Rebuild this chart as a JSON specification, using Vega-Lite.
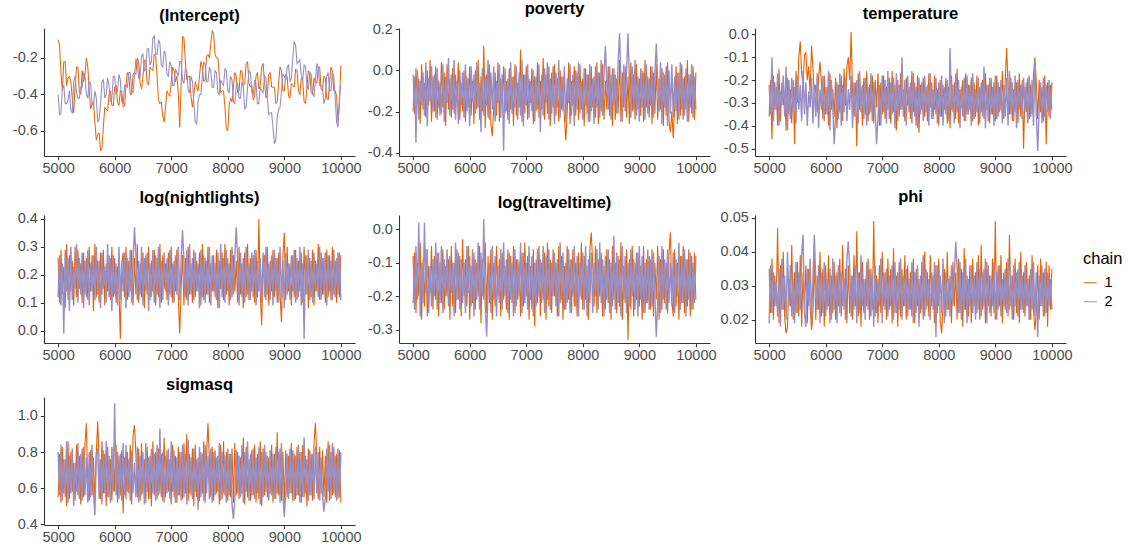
{
"$schema": "https://vega.github.io/schema/vega-lite/v6.json",
"background": "white",
"padding": {"left": 10, "top": 0, "right": 5, "bottom": 5},
"data": {"values": [
{"x":5000,"a1":-0.10,"a2":-0.40,"b1":-0.02,"b2":-0.20,"d1":-0.36,"d2":-0.22,"e1":0.26,"e2":0.12,"f1":-0.22,"f2":-0.08,"g1":0.035,"g2":0.019,"h1":0.55,"h2":0.80},
{"x":5025,"a1":-0.13,"a2":-0.51,"b1":-0.21,"b2":-0.03,"d1":-0.20,"d2":-0.35,"e1":0.10,"e2":0.27,"f1":-0.07,"f2":-0.24,"g1":0.022,"g2":0.036,"h1":0.79,"h2":0.56},
{"x":5050,"a1":-0.28,"a2":-0.50,"b1":0.01,"b2":-0.35,"d1":-0.46,"d2":-0.10,"e1":0.29,"e2":0.09,"f1":-0.25,"f2":-0.05,"g1":0.038,"g2":0.022,"h1":0.52,"h2":0.84},
{"x":5075,"a1":-0.38,"a2":-0.37,"b1":-0.16,"b2":0.00,"d1":-0.18,"d2":-0.38,"e1":0.13,"e2":0.24,"f1":-0.10,"f2":-0.21,"g1":0.020,"g2":0.034,"h1":0.83,"h2":0.53},
{"x":5100,"a1":-0.22,"a2":-0.35,"b1":-0.04,"b2":-0.24,"d1":-0.33,"d2":-0.21,"e1":0.23,"e2":-0.01,"f1":-0.20,"f2":0.02,"g1":0.033,"g2":0.024,"h1":0.57,"h2":0.76},
{"x":5125,"a1":-0.22,"a2":-0.45,"b1":-0.26,"b2":-0.05,"d1":-0.23,"d2":-0.33,"e1":0.08,"e2":0.29,"f1":-0.04,"f2":-0.26,"g1":0.024,"g2":0.031,"h1":0.76,"h2":0.55},
{"x":5150,"a1":-0.35,"a2":-0.45,"b1":0.03,"b2":-0.17,"d1":-0.40,"d2":-0.17,"e1":0.31,"e2":0.14,"f1":-0.27,"f2":-0.10,"g1":0.047,"g2":0.021,"h1":0.50,"h2":0.86},
{"x":5175,"a1":-0.31,"a2":-0.43,"b1":-0.19,"b2":-0.01,"d1":-0.15,"d2":-0.40,"e1":0.11,"e2":0.26,"f1":-0.09,"f2":-0.22,"g1":0.019,"g2":0.035,"h1":0.86,"h2":0.52},
{"x":5200,"a1":-0.30,"a2":-0.38,"b1":-0.06,"b2":-0.22,"d1":-0.38,"d2":-0.25,"e1":0.27,"e2":0.07,"f1":-0.23,"f2":0.02,"g1":0.036,"g2":0.018,"h1":0.54,"h2":0.78},
{"x":5225,"a1":-0.33,"a2":-0.49,"b1":-0.23,"b2":0.04,"d1":-0.21,"d2":-0.31,"e1":0.14,"e2":0.30,"f1":-0.06,"f2":-0.19,"g1":0.023,"g2":0.038,"h1":0.80,"h2":0.57},
{"x":5250,"a1":-0.42,"a2":-0.50,"b1":0.00,"b2":-0.27,"d1":-0.31,"d2":-0.18,"e1":0.25,"e2":0.11,"f1":-0.26,"f2":-0.06,"g1":0.040,"g2":0.023,"h1":0.58,"h2":0.82},
{"x":5275,"a1":-0.50,"a2":-0.33,"b1":-0.17,"b2":-0.04,"d1":-0.25,"d2":-0.36,"e1":0.09,"e2":0.23,"f1":-0.11,"f2":-0.25,"g1":0.021,"g2":0.033,"h1":0.74,"h2":0.50},
{"x":5300,"a1":-0.36,"a2":-0.30,"b1":0.05,"b2":-0.15,"d1":-0.42,"d2":-0.14,"e1":0.30,"e2":0.15,"f1":-0.19,"f2":-0.11,"g1":0.016,"g2":0.020,"h1":0.53,"h2":0.74},
{"x":5325,"a1":-0.25,"a2":-0.39,"b1":-0.25,"b2":0.02,"d1":-0.19,"d2":-0.42,"e1":0.12,"e2":0.31,"f1":-0.05,"f2":-0.23,"g1":0.018,"g2":0.040,"h1":0.84,"h2":0.58},
{"x":5350,"a1":-0.25,"a2":-0.42,"b1":-0.03,"b2":-0.20,"d1":-0.35,"d2":-0.20,"e1":0.29,"e2":0.10,"f1":-0.24,"f2":-0.09,"g1":0.032,"g2":0.024,"h1":0.56,"h2":0.85},
{"x":5375,"a1":-0.39,"a2":-0.42,"b1":-0.20,"b2":-0.02,"d1":-0.24,"d2":-0.37,"e1":0.15,"e2":0.26,"f1":-0.08,"f2":-0.20,"g1":0.024,"g2":0.036,"h1":0.78,"h2":0.54},
{"x":5400,"a1":-0.40,"a2":-0.36,"b1":0.02,"b2":-0.23,"d1":-0.39,"d2":-0.19,"e1":0.24,"e2":0.13,"f1":-0.21,"f2":-0.04,"g1":0.042,"g2":0.021,"h1":0.51,"h2":0.79},
{"x":5425,"a1":-0.27,"a2":-0.36,"b1":-0.24,"b2":0.01,"d1":-0.20,"d2":-0.34,"e1":0.10,"e2":0.28,"f1":-0.07,"f2":-0.24,"g1":0.020,"g2":0.032,"h1":0.82,"h2":0.53},
{"x":5450,"a1":-0.33,"a2":-0.28,"b1":-0.05,"b2":-0.18,"d1":-0.48,"d2":-0.23,"e1":0.28,"e2":0.08,"f1":-0.26,"f2":-0.07,"g1":0.034,"g2":0.019,"h1":0.55,"h2":0.83},
{"x":5475,"a1":-0.29,"a2":-0.30,"b1":-0.22,"b2":-0.06,"d1":-0.16,"d2":-0.39,"e1":0.13,"e2":0.25,"f1":-0.10,"f2":-0.22,"g1":0.022,"g2":0.037,"h1":0.85,"h2":0.56},
{"x":5500,"a1":-0.20,"a2":-0.40,"b1":0.04,"b2":-0.21,"d1":-0.30,"d2":-0.18,"e1":0.26,"e2":0.12,"f1":-0.22,"f2":-0.05,"g1":0.037,"g2":0.022,"h1":0.96,"h2":0.77},
{"x":5525,"a1":-0.25,"a2":-0.42,"b1":-0.18,"b2":0.03,"d1":-0.10,"d2":-0.33,"e1":0.11,"e2":0.29,"f1":-0.06,"f2":-0.25,"g1":0.021,"g2":0.034,"h1":0.58,"h2":0.52},
{"x":5550,"a1":-0.38,"a2":-0.33,"b1":-0.01,"b2":-0.25,"d1":-0.03,"d2":-0.22,"e1":0.30,"e2":0.09,"f1":-0.24,"f2":-0.09,"g1":0.039,"g2":0.023,"h1":0.53,"h2":0.80},
{"x":5575,"a1":-0.48,"a2":-0.34,"b1":-0.27,"b2":-0.03,"d1":-0.17,"d2":-0.38,"e1":0.14,"e2":0.24,"f1":-0.11,"f2":-0.20,"g1":0.018,"g2":0.039,"h1":0.81,"h2":0.55},
{"x":5600,"a1":-0.45,"a2":-0.45,"b1":0.03,"b2":-0.16,"d1":-0.22,"d2":-0.16,"e1":0.27,"e2":0.14,"f1":-0.20,"f2":-0.06,"g1":0.034,"g2":0.045,"h1":0.56,"h2":0.84},
{"x":5625,"a1":-0.44,"a2":-0.46,"b1":-0.19,"b2":0.06,"d1":-0.09,"d2":-0.35,"e1":0.07,"e2":0.27,"f1":-0.09,"f2":-0.23,"g1":0.023,"g2":0.022,"h1":0.77,"h2":0.57},
{"x":5650,"a1":-0.55,"a2":-0.38,"b1":-0.04,"b2":-0.22,"d1":-0.08,"d2":-0.21,"e1":0.31,"e2":0.11,"f1":-0.27,"f2":-0.08,"g1":0.036,"g2":0.018,"h1":0.52,"h2":0.45},
{"x":5675,"a1":-0.65,"a2":-0.42,"b1":-0.23,"b2":-0.02,"d1":-0.20,"d2":-0.40,"e1":0.12,"e2":0.30,"f1":-0.05,"f2":-0.19,"g1":0.019,"g2":0.035,"h1":0.80,"h2":0.79},
{"x":5700,"a1":-0.62,"a2":-0.55,"b1":0.01,"b2":-0.19,"d1":-0.14,"d2":-0.25,"e1":0.25,"e2":0.13,"f1":-0.23,"f2":-0.10,"g1":0.035,"g2":0.024,"h1":0.97,"h2":0.82},
{"x":5725,"a1":-0.61,"a2":-0.54,"b1":-0.21,"b2":0.05,"d1":-0.26,"d2":-0.32,"e1":0.10,"e2":0.25,"f1":-0.10,"f2":-0.26,"g1":0.024,"g2":0.038,"h1":0.74,"h2":0.54},
{"x":5750,"a1":-0.71,"a2":-0.45,"b1":-0.02,"b2":-0.24,"d1":-0.05,"d2":-0.19,"e1":0.28,"e2":0.08,"f1":-0.25,"f2":-0.04,"g1":0.017,"g2":0.020,"h1":0.54,"h2":0.76},
{"x":5775,"a1":-0.69,"a2":-0.33,"b1":-0.16,"b2":-0.05,"d1":-0.15,"d2":-0.39,"e1":0.13,"e2":0.28,"f1":-0.06,"f2":-0.21,"g1":0.022,"g2":0.033,"h1":0.86,"h2":0.51},
{"x":5800,"a1":-0.58,"a2":-0.32,"b1":0.04,"b2":-0.26,"d1":-0.27,"d2":-0.22,"e1":0.29,"e2":0.15,"f1":-0.21,"f2":-0.07,"g1":0.038,"g2":0.045,"h1":0.57,"h2":0.81},
{"x":5825,"a1":-0.47,"a2":-0.42,"b1":-0.24,"b2":0.00,"d1":-0.22,"d2":-0.36,"e1":0.09,"e2":0.23,"f1":-0.08,"f2":-0.24,"g1":0.020,"g2":0.031,"h1":0.79,"h2":0.57},
{"x":5850,"a1":-0.48,"a2":-0.40,"b1":-0.06,"b2":-0.17,"d1":-0.34,"d2":-0.17,"e1":0.24,"e2":0.10,"f1":-0.26,"f2":-0.09,"g1":0.033,"g2":0.023,"h1":0.50,"h2":0.86},
{"x":5875,"a1":-0.49,"a2":-0.31,"b1":-0.20,"b2":-0.01,"d1":-0.19,"d2":-0.41,"e1":0.14,"e2":0.31,"f1":-0.03,"f2":-0.22,"g1":0.023,"g2":0.036,"h1":0.83,"h2":0.55},
{"x":5900,"a1":-0.40,"a2":-0.35,"b1":0.00,"b2":-0.23,"d1":-0.12,"d2":-0.24,"e1":0.27,"e2":0.12,"f1":-0.20,"f2":-0.10,"g1":0.040,"g2":0.019,"h1":0.55,"h2":0.78},
{"x":5925,"a1":-0.38,"a2":-0.44,"b1":-0.25,"b2":0.03,"d1":-0.21,"d2":-0.33,"e1":0.11,"e2":0.26,"f1":-0.09,"f2":-0.25,"g1":0.021,"g2":0.034,"h1":0.76,"h2":0.52},
{"x":5950,"a1":-0.46,"a2":-0.42,"b1":-0.03,"b2":-0.20,"d1":-0.37,"d2":-0.18,"e1":0.30,"e2":0.07,"f1":-0.23,"f2":-0.05,"g1":0.035,"g2":0.022,"h1":0.53,"h2":0.83},
{"x":5975,"a1":-0.46,"a2":-0.30,"b1":-0.18,"b2":-0.04,"d1":-0.18,"d2":-0.38,"e1":0.12,"e2":0.27,"f1":-0.05,"f2":-0.19,"g1":0.018,"g2":0.037,"h1":0.82,"h2":0.58},
{"x":6000,"a1":-0.36,"a2":-0.30,"b1":0.02,"b2":-0.27,"d1":-0.35,"d2":-0.23,"e1":0.26,"e2":0.13,"f1":-0.27,"f2":-0.08,"g1":0.036,"g2":0.021,"h1":0.58,"h2":1.07},
{"x":6025,"a1":-0.35,"a2":-0.40,"b1":-0.22,"b2":0.02,"d1":-0.23,"d2":-0.35,"e1":0.10,"e2":0.24,"f1":-0.11,"f2":-0.23,"g1":0.023,"g2":0.032,"h1":0.84,"h2":0.56},
{"x":6050,"a1":-0.44,"a2":-0.38,"b1":-0.05,"b2":-0.15,"d1":-0.40,"d2":-0.16,"e1":0.23,"e2":0.09,"f1":-0.22,"f2":-0.06,"g1":0.039,"g2":0.024,"h1":0.52,"h2":0.80},
{"x":6075,"a1":-0.46,"a2":-0.29,"b1":-0.26,"b2":-0.02,"d1":-0.17,"d2":-0.42,"e1":0.15,"e2":0.30,"f1":-0.07,"f2":-0.26,"g1":0.019,"g2":0.035,"h1":0.78,"h2":0.54},
{"x":6100,"a1":-0.38,"a2":-0.32,"b1":0.00,"b2":-0.21,"d1":-0.33,"d2":-0.20,"e1":-0.03,"e2":0.11,"f1":-0.24,"f2":-0.09,"g1":0.033,"g2":0.020,"h1":0.56,"h2":0.79},
{"x":6125,"a1":-0.38,"a2":-0.44,"b1":-0.19,"b2":0.04,"d1":-0.24,"d2":-0.31,"e1":0.24,"e2":0.25,"f1":-0.10,"f2":-0.21,"g1":0.022,"g2":0.038,"h1":0.81,"h2":0.53},
{"x":6150,"a1":-0.47,"a2":-0.45,"b1":0.05,"b2":-0.18,"d1":-0.36,"d2":-0.48,"e1":0.28,"e2":0.14,"f1":-0.20,"f2":-0.04,"g1":0.037,"g2":0.023,"h1":0.46,"h2":0.85},
{"x":6175,"a1":-0.46,"a2":-0.35,"b1":-0.24,"b2":-0.06,"d1":-0.19,"d2":-0.36,"e1":0.12,"e2":0.28,"f1":-0.05,"f2":-0.24,"g1":0.020,"g2":0.033,"h1":0.77,"h2":0.56},
{"x":6200,"a1":-0.35,"a2":-0.35,"b1":-0.03,"b2":-0.30,"d1":-0.41,"d2":-0.21,"e1":0.30,"e2":0.08,"f1":-0.28,"f2":-0.07,"g1":0.034,"g2":0.019,"h1":0.54,"h2":0.84},
{"x":6225,"a1":-0.28,"a2":-0.36,"b1":-0.20,"b2":0.01,"d1":-0.22,"d2":-0.37,"e1":0.11,"e2":0.26,"f1":-0.09,"f2":-0.20,"g1":0.024,"g2":0.036,"h1":0.80,"h2":0.58},
{"x":6250,"a1":-0.30,"a2":-0.28,"b1":0.12,"b2":-0.22,"d1":-0.34,"d2":-0.17,"e1":0.25,"e2":0.12,"f1":-0.21,"f2":0.03,"g1":0.038,"g2":0.022,"h1":0.57,"h2":0.76},
{"x":6275,"a1":-0.40,"a2":-0.28,"b1":-0.28,"b2":-0.03,"d1":-0.18,"d2":-0.40,"e1":0.14,"e2":0.29,"f1":-0.04,"f2":-0.23,"g1":0.021,"g2":0.034,"h1":0.84,"h2":0.53},
{"x":6300,"a1":-0.40,"a2":-0.38,"b1":-0.02,"b2":-0.17,"d1":-0.38,"d2":-0.22,"e1":0.29,"e2":0.10,"f1":-0.25,"f2":-0.32,"g1":0.042,"g2":0.024,"h1":0.51,"h2":0.81},
{"x":6325,"a1":-0.29,"a2":-0.39,"b1":-0.23,"b2":0.05,"d1":-0.15,"d2":-0.34,"e1":0.09,"e2":0.24,"f1":-0.08,"f2":-0.18,"g1":0.023,"g2":0.032,"h1":0.89,"h2":0.57},
{"x":6350,"a1":-0.28,"a2":-0.30,"b1":0.03,"b2":-0.24,"d1":-0.31,"d2":-0.19,"e1":0.26,"e2":0.37,"f1":-0.22,"f2":-0.10,"g1":0.035,"g2":0.020,"h1":0.95,"h2":0.74},
{"x":6375,"a1":-0.29,"a2":-0.21,"b1":-0.26,"b2":-0.01,"d1":-0.14,"d2":-0.38,"e1":0.13,"e2":0.27,"f1":-0.06,"f2":-0.25,"g1":0.019,"g2":0.038,"h1":0.79,"h2":0.55},
{"x":6400,"a1":-0.20,"a2":-0.22,"b1":-0.32,"b2":-0.19,"d1":-0.10,"d2":-0.24,"e1":0.31,"e2":0.11,"f1":-0.27,"f2":-0.05,"g1":0.036,"g2":0.043,"h1":0.55,"h2":0.83},
{"x":6425,"a1":-0.22,"a2":-0.31,"b1":-0.18,"b2":0.02,"d1":-0.20,"d2":-0.33,"e1":0.10,"e2":0.25,"f1":-0.10,"f2":-0.21,"g1":0.022,"g2":0.035,"h1":0.82,"h2":0.52},
{"x":6450,"a1":-0.34,"a2":-0.30,"b1":-0.01,"b2":-0.25,"d1":0.01,"d2":-0.18,"e1":0.24,"e2":0.13,"f1":-0.23,"f2":-0.08,"g1":0.033,"g2":0.021,"h1":0.53,"h2":0.78},
{"x":6475,"a1":-0.37,"a2":-0.19,"b1":-0.22,"b2":-0.05,"d1":-0.25,"d2":-0.41,"e1":0.12,"e2":0.30,"f1":-0.05,"f2":-0.26,"g1":0.020,"g2":0.033,"h1":0.85,"h2":0.56},
{"x":6500,"a1":-0.30,"a2":-0.18,"b1":0.04,"b2":-0.16,"d1":-0.36,"d2":-0.21,"e1":0.28,"e2":0.09,"f1":-0.20,"f2":-0.11,"g1":0.039,"g2":0.023,"h1":0.57,"h2":0.80},
{"x":6525,"a1":-0.21,"a2":-0.27,"b1":-0.25,"b2":0.03,"d1":-0.21,"d2":-0.36,"e1":0.08,"e2":0.26,"f1":-0.09,"f2":-0.22,"g1":0.024,"g2":0.036,"h1":0.76,"h2":0.51},
{"x":6550,"a1":-0.22,"a2":-0.26,"b1":-0.04,"b2":-0.23,"d1":-0.49,"d2":-0.20,"e1":0.27,"e2":0.14,"f1":-0.26,"f2":-0.06,"g1":0.046,"g2":0.019,"h1":0.52,"h2":0.85},
{"x":6575,"a1":-0.34,"a2":-0.15,"b1":-0.17,"b2":-0.02,"d1":-0.17,"d2":-0.39,"e1":0.13,"e2":0.28,"f1":-0.07,"f2":-0.24,"g1":0.021,"g2":0.034,"h1":0.83,"h2":0.58},
{"x":6600,"a1":-0.35,"a2":-0.15,"b1":0.02,"b2":-0.39,"d1":-0.33,"d2":-0.16,"e1":0.30,"e2":0.07,"f1":-0.21,"f2":-0.04,"g1":0.034,"g2":0.022,"h1":0.54,"h2":0.77},
{"x":6625,"a1":-0.25,"a2":-0.24,"b1":-0.21,"b2":0.01,"d1":-0.23,"d2":-0.34,"e1":0.11,"e2":0.24,"f1":-0.11,"f2":-0.20,"g1":0.018,"g2":0.039,"h1":0.78,"h2":0.54},
{"x":6650,"a1":-0.26,"a2":-0.22,"b1":-0.05,"b2":-0.20,"d1":-0.40,"d2":-0.22,"e1":0.25,"e2":0.12,"f1":-0.24,"f2":-0.09,"g1":0.037,"g2":0.024,"h1":0.50,"h2":0.82},
{"x":6675,"a1":-0.27,"a2":-0.09,"b1":-0.24,"b2":-0.04,"d1":-0.19,"d2":-0.37,"e1":0.14,"e2":0.29,"f1":-0.06,"f2":-0.25,"g1":0.022,"g2":0.032,"h1":0.86,"h2":0.57},
{"x":6700,"a1":-0.18,"a2":-0.08,"b1":0.01,"b2":-0.26,"d1":-0.35,"d2":-0.19,"e1":0.29,"e2":0.10,"f1":-0.27,"f2":-0.07,"g1":0.032,"g2":0.020,"h1":0.56,"h2":0.79},
{"x":6725,"a1":-0.19,"a2":-0.18,"b1":-0.19,"b2":0.04,"d1":-0.16,"d2":-0.40,"e1":0.09,"e2":0.27,"f1":-0.08,"f2":-0.21,"g1":0.024,"g2":0.037,"h1":0.80,"h2":0.53},
{"x":6750,"a1":-0.30,"a2":-0.18,"b1":-0.03,"b2":-0.21,"d1":-0.38,"d2":-0.23,"e1":0.26,"e2":0.13,"f1":-0.22,"f2":-0.10,"g1":0.038,"g2":0.023,"h1":0.54,"h2":0.84},
{"x":6775,"a1":-0.43,"a2":-0.10,"b1":-0.27,"b2":-0.03,"d1":-0.22,"d2":-0.35,"e1":0.12,"e2":0.30,"f1":-0.05,"f2":-0.26,"g1":0.020,"g2":0.035,"h1":0.82,"h2":0.56},
{"x":6800,"a1":-0.45,"a2":-0.12,"b1":0.03,"b2":-0.18,"d1":-0.34,"d2":-0.17,"e1":0.31,"e2":0.08,"f1":-0.25,"f2":-0.06,"g1":0.035,"g2":0.021,"h1":0.57,"h2":0.93},
{"x":6825,"a1":-0.44,"a2":-0.24,"b1":-0.22,"b2":0.02,"d1":-0.18,"d2":-0.38,"e1":0.10,"e2":0.25,"f1":-0.09,"f2":-0.23,"g1":0.023,"g2":0.033,"h1":0.79,"h2":0.55},
{"x":6850,"a1":-0.52,"a2":-0.25,"b1":-0.06,"b2":-0.24,"d1":-0.39,"d2":-0.21,"e1":0.27,"e2":0.11,"f1":-0.21,"f2":-0.09,"g1":0.049,"g2":0.018,"h1":0.53,"h2":0.80},
{"x":6875,"a1":-0.55,"a2":-0.16,"b1":-0.18,"b2":-0.01,"d1":-0.20,"d2":-0.33,"e1":0.15,"e2":0.28,"f1":-0.10,"f2":-0.20,"g1":0.021,"g2":0.036,"h1":0.88,"h2":0.52},
{"x":6900,"a1":-0.47,"a2":-0.18,"b1":0.10,"b2":-0.22,"d1":-0.32,"d2":-0.48,"e1":0.24,"e2":0.14,"f1":-0.26,"f2":-0.04,"g1":0.033,"g2":0.022,"h1":0.55,"h2":0.78},
{"x":6925,"a1":-0.38,"a2":-0.29,"b1":-0.25,"b2":0.05,"d1":-0.17,"d2":-0.36,"e1":0.11,"e2":0.26,"f1":-0.07,"f2":-0.25,"g1":0.019,"g2":0.032,"h1":0.81,"h2":0.57},
{"x":6950,"a1":-0.40,"a2":-0.30,"b1":-0.02,"b2":-0.27,"d1":-0.40,"d2":-0.22,"e1":0.28,"e2":0.09,"f1":-0.23,"f2":-0.07,"g1":0.036,"g2":0.024,"h1":0.58,"h2":0.82},
{"x":6975,"a1":-0.41,"a2":-0.22,"b1":-0.21,"b2":-0.02,"d1":-0.21,"d2":-0.40,"e1":0.13,"e2":0.29,"f1":-0.04,"f2":-0.22,"g1":0.022,"g2":0.038,"h1":0.76,"h2":0.54},
{"x":7000,"a1":-0.33,"a2":-0.24,"b1":0.02,"b2":-0.17,"d1":-0.35,"d2":-0.18,"e1":0.30,"e2":0.12,"f1":-0.20,"f2":-0.10,"g1":0.040,"g2":0.019,"h1":0.51,"h2":0.86},
{"x":7025,"a1":-0.25,"a2":-0.35,"b1":-0.24,"b2":0.03,"d1":-0.18,"d2":-0.34,"e1":0.10,"e2":0.24,"f1":-0.08,"f2":-0.24,"g1":0.024,"g2":0.034,"h1":0.84,"h2":0.58},
{"x":7050,"a1":-0.27,"a2":-0.35,"b1":-0.04,"b2":-0.23,"d1":-0.37,"d2":-0.20,"e1":0.25,"e2":0.10,"f1":-0.27,"f2":-0.05,"g1":0.034,"g2":0.023,"h1":0.55,"h2":0.81},
{"x":7075,"a1":-0.33,"a2":-0.26,"b1":-0.16,"b2":-0.05,"d1":-0.23,"d2":-0.39,"e1":0.14,"e2":0.27,"f1":-0.11,"f2":-0.21,"g1":0.020,"g2":0.035,"h1":0.78,"h2":0.52},
{"x":7100,"a1":-0.30,"a2":-0.28,"b1":0.01,"b2":-0.20,"d1":-0.33,"d2":-0.16,"e1":0.29,"e2":0.13,"f1":-0.24,"f2":-0.08,"g1":0.038,"g2":0.021,"h1":0.52,"h2":0.77},
{"x":7125,"a1":-0.39,"a2":-0.30,"b1":-0.26,"b2":0.00,"d1":-0.19,"d2":-0.37,"e1":0.12,"e2":0.30,"f1":-0.06,"f2":-0.26,"g1":0.023,"g2":0.033,"h1":0.83,"h2":0.56},
{"x":7150,"a1":-0.58,"a2":-0.22,"b1":-0.03,"b2":-0.25,"d1":-0.39,"d2":-0.21,"e1":-0.01,"e2":0.11,"f1":-0.29,"f2":-0.10,"g1":0.035,"g2":0.024,"h1":0.56,"h2":0.80},
{"x":7175,"a1":-0.35,"a2":-0.22,"b1":-0.20,"b2":-0.03,"d1":-0.16,"d2":-0.35,"e1":0.15,"e2":0.26,"f1":-0.09,"f2":-0.23,"g1":0.019,"g2":0.036,"h1":0.80,"h2":0.53},
{"x":7200,"a1":-0.08,"a2":-0.32,"b1":0.04,"b2":-0.19,"d1":-0.34,"d2":-0.19,"e1":0.27,"e2":0.36,"f1":-0.22,"f2":-0.06,"g1":0.041,"g2":0.020,"h1":0.54,"h2":0.84},
{"x":7225,"a1":-0.09,"a2":-0.34,"b1":-0.23,"b2":0.03,"d1":-0.22,"d2":-0.41,"e1":0.09,"e2":0.25,"f1":-0.05,"f2":-0.20,"g1":0.022,"g2":0.037,"h1":0.85,"h2":0.55},
{"x":7250,"a1":-0.22,"a2":-0.26,"b1":-0.05,"b2":-0.30,"d1":-0.42,"d2":-0.17,"e1":0.26,"e2":0.12,"f1":-0.26,"f2":-0.09,"g1":0.033,"g2":0.022,"h1":0.57,"h2":0.79},
{"x":7275,"a1":-0.32,"a2":-0.27,"b1":-0.19,"b2":-0.02,"d1":-0.20,"d2":-0.38,"e1":0.11,"e2":0.29,"f1":-0.10,"f2":-0.22,"g1":0.018,"g2":0.034,"h1":0.90,"h2":0.51},
{"x":7300,"a1":-0.30,"a2":-0.38,"b1":0.06,"b2":-0.22,"d1":-0.36,"d2":-0.22,"e1":0.30,"e2":0.09,"f1":-0.21,"f2":-0.05,"g1":0.037,"g2":0.023,"h1":0.53,"h2":0.87},
{"x":7325,"a1":-0.30,"a2":-0.39,"b1":-0.24,"b2":0.01,"d1":-0.17,"d2":-0.33,"e1":0.13,"e2":0.31,"f1":-0.07,"f2":-0.25,"g1":0.021,"g2":0.038,"h1":0.79,"h2":0.57},
{"x":7350,"a1":-0.41,"a2":-0.30,"b1":-0.02,"b2":-0.16,"d1":-0.33,"d2":-0.10,"e1":0.24,"e2":0.13,"f1":-0.27,"f2":-0.08,"g1":0.035,"g2":0.020,"h1":0.56,"h2":0.77},
{"x":7375,"a1":-0.47,"a2":-0.33,"b1":-0.21,"b2":0.04,"d1":-0.24,"d2":-0.36,"e1":0.10,"e2":0.26,"f1":-0.04,"f2":-0.21,"g1":0.024,"g2":0.033,"h1":0.82,"h2":0.54},
{"x":7400,"a1":-0.40,"a2":-0.45,"b1":0.02,"b2":-0.24,"d1":-0.38,"d2":-0.20,"e1":0.29,"e2":0.11,"f1":-0.23,"f2":-0.06,"g1":0.039,"g2":0.024,"h1":0.50,"h2":0.82},
{"x":7425,"a1":-0.33,"a2":-0.55,"b1":-0.27,"b2":-0.04,"d1":-0.19,"d2":-0.40,"e1":0.12,"e2":0.28,"f1":-0.09,"f2":-0.24,"g1":0.020,"g2":0.035,"h1":0.84,"h2":0.58},
{"x":7450,"a1":-0.36,"a2":-0.56,"b1":-0.01,"b2":-0.21,"d1":-0.31,"d2":-0.18,"e1":0.25,"e2":0.14,"f1":-0.25,"f2":-0.10,"g1":0.036,"g2":0.021,"h1":0.55,"h2":0.76},
{"x":7475,"a1":-0.38,"a2":-0.44,"b1":-0.18,"b2":0.02,"d1":-0.23,"d2":-0.34,"e1":0.14,"e2":0.24,"f1":-0.06,"f2":-0.20,"g1":0.023,"g2":0.032,"h1":0.77,"h2":0.48},
{"x":7500,"a1":-0.30,"a2":-0.40,"b1":0.03,"b2":-0.26,"d1":-0.37,"d2":-0.21,"e1":0.28,"e2":0.08,"f1":-0.20,"f2":-0.07,"g1":0.034,"g2":0.023,"h1":0.53,"h2":0.83},
{"x":7525,"a1":-0.22,"a2":-0.40,"b1":-0.22,"b2":-0.01,"d1":-0.16,"d2":-0.39,"e1":0.09,"e2":0.29,"f1":-0.10,"f2":-0.23,"g1":0.021,"g2":0.037,"h1":0.80,"h2":0.55},
{"x":7550,"a1":-0.25,"a2":-0.30,"b1":-0.04,"b2":-0.18,"d1":-0.34,"d2":-0.17,"e1":0.31,"e2":0.12,"f1":-0.26,"f2":-0.09,"g1":0.038,"g2":0.019,"h1":0.57,"h2":0.79},
{"x":7575,"a1":-0.33,"a2":-0.22,"b1":-0.25,"b2":0.05,"d1":-0.21,"d2":-0.36,"e1":0.11,"e2":0.27,"f1":-0.05,"f2":-0.26,"g1":0.019,"g2":0.034,"h1":0.86,"h2":0.53},
{"x":7600,"a1":-0.32,"a2":-0.24,"b1":0.00,"b2":-0.23,"d1":-0.40,"d2":-0.23,"e1":0.26,"e2":0.10,"f1":-0.22,"f2":-0.04,"g1":0.035,"g2":0.022,"h1":0.52,"h2":0.84},
{"x":7625,"a1":-0.19,"a2":-0.33,"b1":-0.19,"b2":-0.03,"d1":-0.18,"d2":-0.41,"e1":0.13,"e2":0.25,"f1":-0.08,"f2":-0.21,"g1":0.024,"g2":0.036,"h1":0.79,"h2":0.57},
{"x":7650,"a1":-0.18,"a2":-0.33,"b1":-0.03,"b2":-0.20,"d1":-0.43,"d2":-0.19,"e1":0.30,"e2":0.13,"f1":-0.27,"f2":-0.07,"g1":0.032,"g2":0.018,"h1":0.96,"h2":0.78},
{"x":7675,"a1":-0.20,"a2":-0.25,"b1":-0.23,"b2":0.02,"d1":-0.22,"d2":-0.35,"e1":0.10,"e2":0.30,"f1":-0.11,"f2":-0.24,"g1":0.022,"g2":0.033,"h1":0.76,"h2":0.54},
{"x":7700,"a1":-0.12,"a2":-0.27,"b1":-0.34,"b2":-0.25,"d1":-0.33,"d2":-0.21,"e1":0.24,"e2":0.09,"f1":-0.24,"f2":-0.10,"g1":0.037,"g2":0.023,"h1":0.55,"h2":0.82},
{"x":7725,"a1":-0.05,"a2":-0.36,"b1":-0.20,"b2":-0.04,"d1":-0.19,"d2":-0.38,"e1":0.14,"e2":0.27,"f1":-0.05,"f2":-0.22,"g1":0.020,"g2":0.039,"h1":0.83,"h2":0.52},
{"x":7750,"a1":-0.07,"a2":-0.36,"b1":0.04,"b2":-0.16,"d1":-0.36,"d2":-0.18,"e1":0.27,"e2":0.14,"f1":-0.21,"f2":-0.06,"g1":0.040,"g2":0.021,"h1":0.53,"h2":0.80},
{"x":7775,"a1":-0.18,"a2":-0.27,"b1":-0.26,"b2":0.03,"d1":-0.23,"d2":-0.34,"e1":0.12,"e2":0.24,"f1":-0.09,"f2":-0.25,"g1":0.023,"g2":0.035,"h1":0.81,"h2":0.56},
{"x":7800,"a1":-0.20,"a2":-0.28,"b1":-0.05,"b2":-0.22,"d1":-0.38,"d2":-0.22,"e1":0.29,"e2":0.11,"f1":-0.25,"f2":-0.09,"g1":0.034,"g2":0.024,"h1":0.57,"h2":0.77},
{"x":7825,"a1":-0.20,"a2":-0.39,"b1":-0.17,"b2":-0.02,"d1":-0.17,"d2":-0.40,"e1":0.08,"e2":0.28,"f1":-0.06,"f2":-0.20,"g1":0.021,"g2":0.032,"h1":0.78,"h2":0.58},
{"x":7850,"a1":-0.30,"a2":-0.40,"b1":0.02,"b2":-0.27,"d1":-0.32,"d2":-0.17,"e1":0.25,"e2":0.08,"f1":-0.23,"f2":-0.05,"g1":0.039,"g2":0.020,"h1":0.51,"h2":0.85},
{"x":7875,"a1":-0.39,"a2":-0.32,"b1":-0.22,"b2":0.00,"d1":-0.21,"d2":-0.37,"e1":0.15,"e2":0.31,"f1":-0.10,"f2":-0.23,"g1":0.024,"g2":0.034,"h1":0.84,"h2":0.53},
{"x":7900,"a1":-0.38,"a2":-0.34,"b1":-0.01,"b2":-0.19,"d1":-0.37,"d2":-0.24,"e1":0.28,"e2":0.12,"f1":-0.26,"f2":-0.08,"g1":0.033,"g2":0.023,"h1":0.54,"h2":0.80},
{"x":7925,"a1":-0.38,"a2":-0.35,"b1":-0.24,"b2":0.04,"d1":-0.18,"d2":-0.33,"e1":0.11,"e2":0.26,"f1":-0.07,"f2":-0.26,"g1":0.019,"g2":0.037,"h1":0.86,"h2":0.57},
{"x":7950,"a1":-0.47,"a2":-0.26,"b1":0.03,"b2":-0.21,"d1":-0.35,"d2":-0.19,"e1":0.31,"e2":0.10,"f1":-0.20,"f2":-0.10,"g1":0.036,"g2":0.015,"h1":0.56,"h2":0.78},
{"x":7975,"a1":-0.59,"a2":-0.27,"b1":-0.19,"b2":-0.05,"d1":-0.24,"d2":-0.39,"e1":0.13,"e2":0.29,"f1":-0.04,"f2":-0.21,"g1":0.022,"g2":0.036,"h1":0.80,"h2":0.52},
{"x":8000,"a1":-0.60,"a2":-0.38,"b1":-0.04,"b2":-0.24,"d1":-0.40,"d2":-0.21,"e1":0.26,"e2":0.14,"f1":-0.24,"f2":-0.07,"g1":0.038,"g2":0.024,"h1":0.53,"h2":0.82},
{"x":8025,"a1":-0.46,"a2":-0.39,"b1":-0.27,"b2":0.01,"d1":-0.20,"d2":-0.36,"e1":0.09,"e2":0.24,"f1":-0.08,"f2":-0.24,"g1":0.020,"g2":0.033,"h1":0.79,"h2":0.56},
{"x":8050,"a1":-0.42,"a2":-0.30,"b1":0.01,"b2":-0.17,"d1":-0.36,"d2":-0.18,"e1":0.29,"e2":0.11,"f1":-0.21,"f2":-0.05,"g1":0.016,"g2":0.022,"h1":0.55,"h2":0.79},
{"x":8075,"a1":-0.44,"a2":-0.32,"b1":-0.21,"b2":-0.02,"d1":-0.22,"d2":-0.40,"e1":0.12,"e2":0.30,"f1":-0.11,"f2":-0.26,"g1":0.024,"g2":0.038,"h1":0.82,"h2":0.51},
{"x":8100,"a1":-0.36,"a2":-0.44,"b1":-0.02,"b2":-0.25,"d1":-0.33,"d2":-0.23,"e1":0.27,"e2":0.13,"f1":-0.27,"f2":-0.09,"g1":0.035,"g2":0.019,"h1":0.52,"h2":0.43},
{"x":8125,"a1":-0.28,"a2":-0.45,"b1":-0.25,"b2":0.03,"d1":-0.19,"d2":-0.35,"e1":0.14,"e2":0.27,"f1":-0.06,"f2":-0.22,"g1":0.021,"g2":0.034,"h1":0.85,"h2":0.54},
{"x":8150,"a1":-0.30,"a2":-0.35,"b1":0.02,"b2":-0.20,"d1":-0.39,"d2":-0.20,"e1":0.25,"e2":0.37,"f1":-0.01,"f2":-0.07,"g1":0.040,"g2":0.023,"h1":0.56,"h2":0.81},
{"x":8175,"a1":-0.39,"a2":-0.34,"b1":-0.18,"b2":-0.04,"d1":-0.23,"d2":-0.38,"e1":0.10,"e2":0.25,"f1":-0.10,"f2":-0.25,"g1":0.023,"g2":0.032,"h1":0.80,"h2":0.57},
{"x":8200,"a1":-0.38,"a2":-0.42,"b1":-0.03,"b2":-0.26,"d1":-0.41,"d2":-0.06,"e1":0.30,"e2":0.09,"f1":-0.23,"f2":-0.10,"g1":0.033,"g2":0.021,"h1":0.54,"h2":0.78},
{"x":8225,"a1":-0.27,"a2":-0.42,"b1":-0.23,"b2":0.02,"d1":-0.18,"d2":-0.33,"e1":0.13,"e2":0.28,"f1":-0.05,"f2":-0.20,"g1":0.019,"g2":0.036,"h1":0.77,"h2":0.55},
{"x":8250,"a1":-0.27,"a2":-0.33,"b1":0.04,"b2":-0.18,"d1":-0.34,"d2":-0.22,"e1":0.24,"e2":0.12,"f1":-0.25,"f2":-0.06,"g1":0.037,"g2":0.024,"h1":0.57,"h2":0.84},
{"x":8275,"a1":-0.35,"a2":-0.36,"b1":-0.26,"b2":-0.01,"d1":-0.21,"d2":-0.39,"e1":0.08,"e2":0.26,"f1":-0.09,"f2":-0.24,"g1":0.024,"g2":0.033,"h1":0.88,"h2":0.52},
{"x":8300,"a1":-0.34,"a2":-0.48,"b1":-0.01,"b2":-0.23,"d1":-0.37,"d2":-0.17,"e1":0.28,"e2":0.10,"f1":-0.20,"f2":-0.04,"g1":0.034,"g2":0.043,"h1":0.51,"h2":0.80},
{"x":8325,"a1":-0.23,"a2":-0.47,"b1":-0.20,"b2":0.05,"d1":-0.15,"d2":-0.34,"e1":0.12,"e2":0.30,"f1":-0.07,"f2":-0.22,"g1":0.020,"g2":0.035,"h1":0.83,"h2":0.58},
{"x":8350,"a1":-0.22,"a2":-0.36,"b1":0.03,"b2":-0.22,"d1":-0.39,"d2":-0.20,"e1":0.31,"e2":0.13,"f1":-0.26,"f2":-0.09,"g1":0.038,"g2":0.022,"h1":0.55,"h2":0.86},
{"x":8375,"a1":-0.34,"a2":-0.27,"b1":-0.24,"b2":-0.03,"d1":-0.24,"d2":-0.41,"e1":0.11,"e2":0.24,"f1":-0.11,"f2":-0.26,"g1":0.022,"g2":0.037,"h1":0.76,"h2":0.53},
{"x":8400,"a1":-0.36,"a2":-0.28,"b1":-0.05,"b2":0.12,"d1":-0.32,"d2":-0.23,"e1":0.26,"e2":0.11,"f1":-0.24,"f2":-0.08,"g1":0.035,"g2":0.020,"h1":0.53,"h2":0.79},
{"x":8425,"a1":-0.35,"a2":-0.39,"b1":-0.19,"b2":-0.06,"d1":-0.20,"d2":-0.36,"e1":0.14,"e2":0.28,"f1":-0.06,"f2":-0.21,"g1":0.018,"g2":0.034,"h1":0.81,"h2":0.56},
{"x":8450,"a1":-0.43,"a2":-0.40,"b1":0.02,"b2":-0.19,"d1":-0.38,"d2":-0.19,"e1":0.27,"e2":0.12,"f1":-0.22,"f2":-0.06,"g1":0.041,"g2":0.023,"h1":0.56,"h2":0.82},
{"x":8475,"a1":-0.41,"a2":-0.32,"b1":-0.22,"b2":0.02,"d1":-0.17,"d2":-0.38,"e1":0.10,"e2":0.29,"f1":-0.09,"f2":-0.25,"g1":0.023,"g2":0.038,"h1":0.84,"h2":0.54},
{"x":8500,"a1":-0.30,"a2":-0.34,"b1":-0.02,"b2":-0.24,"d1":-0.35,"d2":-0.18,"e1":0.29,"e2":0.09,"f1":-0.27,"f2":-0.10,"g1":0.033,"g2":0.019,"h1":0.52,"h2":0.77},
{"x":8525,"a1":-0.28,"a2":-0.45,"b1":-0.27,"b2":0.01,"d1":-0.22,"d2":-0.35,"e1":0.12,"e2":0.25,"f1":-0.05,"f2":-0.23,"g1":0.021,"g2":0.032,"h1":0.79,"h2":0.57},
{"x":8550,"a1":-0.37,"a2":-0.45,"b1":0.01,"b2":-0.17,"d1":-0.33,"d2":-0.22,"e1":0.40,"e2":0.14,"f1":-0.21,"f2":-0.02,"g1":0.036,"g2":0.024,"h1":0.54,"h2":0.83},
{"x":8575,"a1":-0.35,"a2":-0.36,"b1":-0.24,"b2":-0.02,"d1":-0.19,"d2":-0.40,"e1":0.13,"e2":0.26,"f1":-0.10,"f2":-0.24,"g1":0.019,"g2":0.036,"h1":0.86,"h2":0.51},
{"x":8600,"a1":-0.25,"a2":-0.38,"b1":-0.04,"b2":-0.21,"d1":-0.38,"d2":-0.17,"e1":0.02,"e2":0.10,"f1":-0.25,"f2":-0.07,"g1":0.038,"g2":0.022,"h1":0.50,"h2":0.80},
{"x":8625,"a1":-0.23,"a2":-0.39,"b1":-0.21,"b2":0.04,"d1":-0.21,"d2":-0.37,"e1":0.26,"e2":0.28,"f1":-0.08,"f2":-0.22,"g1":0.024,"g2":0.033,"h1":0.82,"h2":0.55},
{"x":8650,"a1":-0.33,"a2":-0.30,"b1":0.05,"b2":0.18,"d1":-0.36,"d2":-0.24,"e1":0.27,"e2":0.12,"f1":-0.23,"f2":-0.09,"g1":0.034,"g2":0.020,"h1":0.56,"h2":0.84},
{"x":8675,"a1":-0.42,"a2":-0.31,"b1":-0.25,"b2":-0.04,"d1":-0.18,"d2":-0.34,"e1":0.11,"e2":0.30,"f1":-0.04,"f2":-0.26,"g1":0.022,"g2":0.037,"h1":0.80,"h2":0.58},
{"x":8700,"a1":-0.40,"a2":-0.42,"b1":-0.01,"b2":-0.25,"d1":-0.40,"d2":-0.19,"e1":0.30,"e2":0.13,"f1":-0.27,"f2":-0.05,"g1":0.039,"g2":0.023,"h1":0.55,"h2":0.78},
{"x":8725,"a1":-0.29,"a2":-0.51,"b1":-0.18,"b2":0.03,"d1":-0.23,"d2":-0.39,"e1":0.09,"e2":0.24,"f1":-0.11,"f2":-0.21,"g1":0.020,"g2":0.035,"h1":0.77,"h2":0.53},
{"x":8750,"a1":-0.28,"a2":-0.50,"b1":0.02,"b2":-0.20,"d1":-0.34,"d2":-0.21,"e1":0.25,"e2":0.11,"f1":-0.22,"f2":-0.08,"g1":0.042,"g2":0.021,"h1":0.57,"h2":0.81},
{"x":8775,"a1":-0.36,"a2":-0.50,"b1":-0.23,"b2":0.00,"d1":-0.20,"d2":-0.36,"e1":0.14,"e2":0.27,"f1":-0.06,"f2":-0.25,"g1":0.023,"g2":0.034,"h1":0.84,"h2":0.56},
{"x":8800,"a1":-0.36,"a2":-0.58,"b1":-0.03,"b2":0.18,"d1":-0.37,"d2":-0.14,"e1":0.29,"e2":0.09,"f1":-0.33,"f2":-0.10,"g1":0.035,"g2":0.024,"h1":0.52,"h2":0.79},
{"x":8825,"a1":-0.36,"a2":-0.67,"b1":-0.26,"b2":-0.05,"d1":-0.17,"d2":-0.41,"e1":0.12,"e2":0.29,"f1":-0.09,"f2":-0.23,"g1":0.019,"g2":0.038,"h1":0.79,"h2":0.54},
{"x":8850,"a1":-0.45,"a2":-0.65,"b1":0.04,"b2":-0.23,"d1":-0.33,"d2":-0.22,"e1":0.26,"e2":0.14,"f1":-0.24,"f2":-0.06,"g1":0.037,"g2":0.019,"h1":0.54,"h2":0.83},
{"x":8875,"a1":-0.44,"a2":-0.52,"b1":-0.20,"b2":0.02,"d1":-0.22,"d2":-0.38,"e1":0.10,"e2":0.26,"f1":-0.05,"f2":-0.20,"g1":0.024,"g2":0.036,"h1":0.91,"h2":0.57},
{"x":8900,"a1":-0.33,"a2":-0.48,"b1":-0.02,"b2":-0.19,"d1":-0.39,"d2":-0.19,"e1":0.28,"e2":0.10,"f1":-0.26,"f2":-0.09,"g1":0.033,"g2":0.022,"h1":0.56,"h2":0.80},
{"x":8925,"a1":-0.25,"a2":-0.47,"b1":-0.24,"b2":0.05,"d1":-0.19,"d2":-0.35,"e1":0.13,"e2":0.30,"f1":-0.10,"f2":-0.24,"g1":0.021,"g2":0.033,"h1":0.82,"h2":0.52},
{"x":8950,"a1":-0.27,"a2":-0.38,"b1":0.03,"b2":-0.22,"d1":-0.35,"d2":-0.23,"e1":0.03,"e2":0.12,"f1":-0.21,"f2":-0.07,"g1":0.038,"g2":0.024,"h1":0.53,"h2":0.85},
{"x":8975,"a1":-0.38,"a2":-0.29,"b1":-0.19,"b2":-0.03,"d1":-0.21,"d2":-0.40,"e1":0.27,"e2":0.25,"f1":-0.07,"f2":-0.26,"g1":0.022,"g2":0.037,"h1":0.80,"h2":0.55},
{"x":9000,"a1":-0.38,"a2":-0.30,"b1":-0.04,"b2":-0.25,"d1":-0.38,"d2":-0.18,"e1":0.35,"e2":0.08,"f1":-0.23,"f2":-0.05,"g1":0.049,"g2":0.020,"h1":0.51,"h2":0.44},
{"x":9025,"a1":-0.29,"a2":-0.32,"b1":-0.22,"b2":0.01,"d1":-0.18,"d2":-0.37,"e1":0.11,"e2":0.28,"f1":-0.11,"f2":-0.21,"g1":0.020,"g2":0.034,"h1":0.81,"h2":0.58},
{"x":9050,"a1":-0.30,"a2":-0.25,"b1":0.00,"b2":-0.18,"d1":-0.36,"d2":-0.21,"e1":0.30,"e2":0.13,"f1":-0.27,"f2":-0.08,"g1":0.036,"g2":0.023,"h1":0.55,"h2":0.79},
{"x":9075,"a1":-0.41,"a2":-0.24,"b1":-0.25,"b2":-0.01,"d1":-0.23,"d2":-0.34,"e1":0.14,"e2":0.24,"f1":-0.05,"f2":-0.25,"g1":0.024,"g2":0.036,"h1":0.78,"h2":0.54},
{"x":9100,"a1":-0.42,"a2":-0.33,"b1":0.05,"b2":-0.24,"d1":-0.33,"d2":-0.20,"e1":0.24,"e2":0.11,"f1":-0.25,"f2":-0.10,"g1":0.039,"g2":0.021,"h1":0.57,"h2":0.82},
{"x":9125,"a1":-0.34,"a2":-0.31,"b1":-0.18,"b2":0.03,"d1":-0.16,"d2":-0.39,"e1":0.09,"e2":0.27,"f1":-0.09,"f2":-0.22,"g1":0.019,"g2":0.032,"h1":0.85,"h2":0.57},
{"x":9150,"a1":-0.35,"a2":-0.20,"b1":-0.03,"b2":-0.21,"d1":-0.37,"d2":-0.22,"e1":0.27,"e2":0.14,"f1":-0.22,"f2":-0.06,"g1":0.034,"g2":0.024,"h1":0.53,"h2":0.81},
{"x":9175,"a1":-0.36,"a2":-0.11,"b1":-0.23,"b2":-0.04,"d1":-0.20,"d2":-0.36,"e1":0.12,"e2":0.29,"f1":-0.08,"f2":-0.24,"g1":0.023,"g2":0.035,"h1":0.79,"h2":0.53},
{"x":9200,"a1":-0.26,"a2":-0.13,"b1":0.02,"b2":-0.17,"d1":-0.06,"d2":-0.19,"e1":0.29,"e2":0.10,"f1":-0.24,"f2":-0.09,"g1":0.037,"g2":0.022,"h1":0.54,"h2":0.78},
{"x":9225,"a1":-0.27,"a2":-0.23,"b1":-0.26,"b2":0.02,"d1":-0.22,"d2":-0.40,"e1":0.11,"e2":0.26,"f1":-0.06,"f2":-0.23,"g1":0.021,"g2":0.038,"h1":0.83,"h2":0.56},
{"x":9250,"a1":-0.38,"a2":-0.22,"b1":-0.01,"b2":-0.23,"d1":-0.35,"d2":-0.16,"e1":0.25,"e2":0.12,"f1":-0.26,"f2":-0.07,"g1":0.045,"g2":0.023,"h1":0.56,"h2":0.84},
{"x":9275,"a1":-0.40,"a2":-0.21,"b1":-0.21,"b2":-0.02,"d1":-0.19,"d2":-0.35,"e1":0.14,"e2":0.30,"f1":-0.10,"f2":-0.20,"g1":0.024,"g2":0.033,"h1":0.80,"h2":0.52},
{"x":9300,"a1":-0.31,"a2":-0.30,"b1":0.03,"b2":0.13,"d1":-0.38,"d2":-0.21,"e1":0.28,"e2":0.09,"f1":-0.21,"f2":-0.32,"g1":0.033,"g2":0.020,"h1":0.52,"h2":0.80},
{"x":9325,"a1":-0.32,"a2":-0.32,"b1":-0.24,"b2":-0.05,"d1":-0.24,"d2":-0.38,"e1":0.10,"e2":0.24,"f1":-0.05,"f2":-0.22,"g1":0.020,"g2":0.036,"h1":0.84,"h2":0.55},
{"x":9350,"a1":-0.44,"a2":-0.24,"b1":-0.04,"b2":-0.20,"d1":-0.34,"d2":-0.18,"e1":0.30,"e2":-0.03,"f1":-0.27,"f2":-0.08,"g1":0.038,"g2":0.024,"h1":0.55,"h2":0.88},
{"x":9375,"a1":-0.45,"a2":-0.25,"b1":-0.19,"b2":0.04,"d1":-0.21,"d2":-0.41,"e1":0.13,"e2":0.27,"f1":-0.09,"f2":-0.25,"g1":0.022,"g2":0.034,"h1":0.78,"h2":0.57},
{"x":9400,"a1":-0.36,"a2":-0.36,"b1":0.01,"b2":-0.26,"d1":-0.39,"d2":-0.20,"e1":0.27,"e2":0.13,"f1":-0.24,"f2":-0.05,"g1":0.035,"g2":0.021,"h1":0.50,"h2":0.76},
{"x":9425,"a1":-0.27,"a2":-0.37,"b1":-0.27,"b2":-0.01,"d1":-0.17,"d2":-0.33,"e1":0.08,"e2":0.29,"f1":-0.06,"f2":-0.21,"g1":0.019,"g2":0.037,"h1":0.82,"h2":0.53},
{"x":9450,"a1":-0.28,"a2":-0.28,"b1":-0.02,"b2":-0.18,"d1":-0.36,"d2":-0.22,"e1":0.26,"e2":0.11,"f1":-0.22,"f2":-0.09,"g1":0.040,"g2":0.023,"h1":0.56,"h2":0.81},
{"x":9475,"a1":-0.39,"a2":-0.29,"b1":-0.22,"b2":0.02,"d1":-0.20,"d2":-0.37,"e1":0.12,"e2":0.25,"f1":-0.10,"f2":-0.24,"g1":0.023,"g2":0.033,"h1":0.79,"h2":0.56},
{"x":9500,"a1":-0.40,"a2":-0.40,"b1":0.04,"b2":-0.27,"d1":-0.50,"d2":-0.19,"e1":0.29,"e2":0.10,"f1":-0.25,"f2":-0.06,"g1":0.034,"g2":0.022,"h1":0.53,"h2":0.79},
{"x":9525,"a1":-0.31,"a2":-0.41,"b1":-0.25,"b2":0.00,"d1":-0.23,"d2":-0.34,"e1":0.09,"e2":0.28,"f1":-0.07,"f2":-0.22,"g1":0.021,"g2":0.036,"h1":0.85,"h2":0.54},
{"x":9550,"a1":-0.33,"a2":-0.32,"b1":-0.30,"b2":-0.21,"d1":-0.34,"d2":-0.21,"e1":0.25,"e2":0.14,"f1":-0.01,"f2":-0.10,"g1":0.037,"g2":0.024,"h1":0.96,"h2":0.83},
{"x":9575,"a1":-0.34,"a2":-0.23,"b1":-0.20,"b2":0.03,"d1":-0.19,"d2":-0.39,"e1":0.14,"e2":0.24,"f1":-0.21,"f2":-0.23,"g1":0.024,"g2":0.032,"h1":0.77,"h2":0.57},
{"x":9600,"a1":-0.25,"a2":-0.25,"b1":-0.33,"b2":-0.23,"d1":-0.37,"d2":-0.18,"e1":0.31,"e2":0.12,"f1":-0.26,"f2":-0.07,"g1":0.033,"g2":0.020,"h1":0.54,"h2":0.80},
{"x":9625,"a1":-0.25,"a2":-0.35,"b1":-0.18,"b2":-0.03,"d1":-0.22,"d2":-0.36,"e1":0.11,"e2":0.30,"f1":-0.06,"f2":-0.25,"g1":0.020,"g2":0.035,"h1":0.83,"h2":0.53},
{"x":9650,"a1":-0.37,"a2":-0.35,"b1":0.02,"b2":-0.20,"d1":-0.35,"d2":-0.20,"e1":0.28,"e2":0.11,"f1":-0.23,"f2":-0.09,"g1":0.039,"g2":0.023,"h1":0.57,"h2":0.77},
{"x":9675,"a1":-0.38,"a2":-0.36,"b1":-0.26,"b2":-0.01,"d1":-0.18,"d2":-0.40,"e1":0.13,"e2":0.26,"f1":-0.10,"f2":-0.20,"g1":0.023,"g2":0.037,"h1":0.81,"h2":0.56},
{"x":9700,"a1":-0.30,"a2":-0.45,"b1":-0.01,"b2":-0.24,"d1":-0.10,"d2":-0.12,"e1":0.26,"e2":0.13,"f1":-0.27,"f2":-0.04,"g1":0.017,"g2":0.021,"h1":0.55,"h2":0.47},
{"x":9725,"a1":-0.31,"a2":-0.42,"b1":-0.22,"b2":0.04,"d1":-0.21,"d2":-0.35,"e1":0.10,"e2":0.28,"f1":-0.08,"f2":-0.24,"g1":0.022,"g2":0.034,"h1":0.78,"h2":0.55},
{"x":9750,"a1":-0.42,"a2":-0.30,"b1":0.03,"b2":-0.19,"d1":-0.37,"d2":-0.51,"e1":0.29,"e2":0.09,"f1":-0.22,"f2":-0.08,"g1":0.036,"g2":0.015,"h1":0.52,"h2":0.82},
{"x":9775,"a1":-0.43,"a2":-0.28,"b1":-0.24,"b2":-0.04,"d1":-0.20,"d2":-0.33,"e1":0.12,"e2":0.27,"f1":-0.05,"f2":-0.22,"g1":0.020,"g2":0.033,"h1":0.86,"h2":0.58},
{"x":9800,"a1":-0.34,"a2":-0.38,"b1":-0.03,"b2":-0.22,"d1":-0.34,"d2":-0.21,"e1":0.27,"e2":0.14,"f1":-0.25,"f2":-0.06,"g1":0.038,"g2":0.024,"h1":0.53,"h2":0.84},
{"x":9825,"a1":-0.25,"a2":-0.38,"b1":-0.19,"b2":0.01,"d1":-0.23,"d2":-0.39,"e1":0.11,"e2":0.25,"f1":-0.09,"f2":-0.26,"g1":0.024,"g2":0.036,"h1":0.80,"h2":0.54},
{"x":9850,"a1":-0.27,"a2":-0.28,"b1":0.05,"b2":-0.25,"d1":-0.38,"d2":-0.19,"e1":0.30,"e2":0.11,"f1":-0.23,"f2":-0.09,"g1":0.034,"g2":0.021,"h1":0.56,"h2":0.85},
{"x":9875,"a1":-0.38,"a2":-0.30,"b1":-0.25,"b2":-0.02,"d1":-0.18,"d2":-0.36,"e1":0.13,"e2":0.29,"f1":-0.06,"f2":-0.21,"g1":0.021,"g2":0.035,"h1":0.83,"h2":0.57},
{"x":9900,"a1":-0.38,"a2":-0.42,"b1":-0.02,"b2":-0.18,"d1":-0.48,"d2":-0.22,"e1":0.25,"e2":0.12,"f1":-0.26,"f2":-0.07,"g1":0.037,"g2":0.022,"h1":0.55,"h2":0.78},
{"x":9925,"a1":-0.41,"a2":-0.55,"b1":-0.21,"b2":0.03,"d1":-0.21,"d2":-0.34,"e1":0.10,"e2":0.26,"f1":-0.08,"f2":-0.24,"g1":0.018,"g2":0.034,"h1":0.79,"h2":0.53},
{"x":9950,"a1":-0.55,"a2":-0.58,"b1":0.02,"b2":-0.23,"d1":-0.36,"d2":-0.20,"e1":0.28,"e2":0.13,"f1":-0.24,"f2":-0.10,"g1":0.036,"g2":0.024,"h1":0.54,"h2":0.82},
{"x":9975,"a1":-0.45,"a2":-0.41,"b1":-0.24,"b2":-0.03,"d1":-0.22,"d2":-0.37,"e1":0.12,"e2":0.28,"f1":-0.07,"f2":-0.22,"g1":0.023,"g2":0.032,"h1":0.81,"h2":0.55},
{"x":10000,"a1":-0.24,"a2":-0.35,"b1":-0.01,"b2":-0.19,"d1":-0.33,"d2":-0.21,"e1":0.27,"e2":0.11,"f1":-0.21,"f2":-0.08,"g1":0.035,"g2":0.023,"h1":0.52,"h2":0.80}
]},
"columns": 3,
"spacing": {"row": 13, "column": 3},
"concat": [
{"title": "(Intercept)", "width": 311, "height": 128,
 "encoding": {"x": {"field": "x", "type": "quantitative", "title": null, "scale": {"domain": [4750, 10250], "nice": false}, "axis": {"values": [5000,6000,7000,8000,9000,10000], "format": "d"}}},
 "layer": [
  {"mark": {"type": "line", "strokeWidth": 1}, "encoding": {"y": {"field": "a1", "type": "quantitative", "title": null, "scale": {"domain": [-0.737, -0.036], "nice": false, "zero": false}, "axis": {"values": [-0.6,-0.4,-0.2], "format": ".1f"}}, "color": {"datum": "1", "type": "nominal", "scale": {"domain": ["1","2"], "range": ["#E66101","#998EC3"]}, "legend": {"title": "chain", "orient": "none", "legendX": 1039, "legendY": 223}}}},
  {"mark": {"type": "line", "strokeWidth": 1.1}, "encoding": {"y": {"field": "a2", "type": "quantitative", "title": null, "scale": {"domain": [-0.737, -0.036], "nice": false, "zero": false}, "axis": {"values": [-0.6,-0.4,-0.2], "format": ".1f"}}, "color": {"datum": "2", "type": "nominal"}}}
 ]},
{"title": "poverty", "width": 311, "height": 128,
 "encoding": {"x": {"field": "x", "type": "quantitative", "title": null, "scale": {"domain": [4750, 10250], "nice": false}, "axis": {"values": [5000,6000,7000,8000,9000,10000], "format": "d"}}},
 "layer": [
  {"mark": {"type": "line", "strokeWidth": 1.1}, "encoding": {"y": {"field": "b1", "type": "quantitative", "title": null, "scale": {"domain": [-0.416, 0.206], "nice": false, "zero": false}, "axis": {"values": [-0.4,-0.2,0,0.2], "format": ".1f"}}, "color": {"datum": "1", "type": "nominal"}}},
  {"mark": {"type": "line", "strokeWidth": 1.4}, "encoding": {"y": {"field": "b2", "type": "quantitative", "title": null, "scale": {"domain": [-0.416, 0.206], "nice": false, "zero": false}, "axis": {"values": [-0.4,-0.2,0,0.2], "format": ".1f"}}, "color": {"datum": "2", "type": "nominal"}}}
 ]},
{"title": "temperature", "width": 311, "height": 128,
 "encoding": {"x": {"field": "x", "type": "quantitative", "title": null, "scale": {"domain": [4750, 10250], "nice": false}, "axis": {"values": [5000,6000,7000,8000,9000,10000], "format": "d"}}},
 "layer": [
  {"mark": {"type": "line", "strokeWidth": 1.1}, "encoding": {"y": {"field": "d1", "type": "quantitative", "title": null, "scale": {"domain": [-0.532, 0.028], "nice": false, "zero": false}, "axis": {"values": [-0.5,-0.4,-0.3,-0.2,-0.1,0], "format": ".1f"}}, "color": {"datum": "1", "type": "nominal"}}},
  {"mark": {"type": "line", "strokeWidth": 1.4}, "encoding": {"y": {"field": "d2", "type": "quantitative", "title": null, "scale": {"domain": [-0.532, 0.028], "nice": false, "zero": false}, "axis": {"values": [-0.5,-0.4,-0.3,-0.2,-0.1,0], "format": ".1f"}}, "color": {"datum": "2", "type": "nominal"}}}
 ]},
{"title": "log(nightlights)", "width": 311, "height": 128,
 "encoding": {"x": {"field": "x", "type": "quantitative", "title": null, "scale": {"domain": [4750, 10250], "nice": false}, "axis": {"values": [5000,6000,7000,8000,9000,10000], "format": "d"}}},
 "layer": [
  {"mark": {"type": "line", "strokeWidth": 1.1}, "encoding": {"y": {"field": "e1", "type": "quantitative", "title": null, "scale": {"domain": [-0.044, 0.414], "nice": false, "zero": false}, "axis": {"values": [0,0.1,0.2,0.3,0.4], "format": ".1f"}}, "color": {"datum": "1", "type": "nominal"}}},
  {"mark": {"type": "line", "strokeWidth": 1.4}, "encoding": {"y": {"field": "e2", "type": "quantitative", "title": null, "scale": {"domain": [-0.044, 0.414], "nice": false, "zero": false}, "axis": {"values": [0,0.1,0.2,0.3,0.4], "format": ".1f"}}, "color": {"datum": "2", "type": "nominal"}}}
 ]},
{"title": "log(traveltime)", "width": 311, "height": 128,
 "encoding": {"x": {"field": "x", "type": "quantitative", "title": null, "scale": {"domain": [4750, 10250], "nice": false}, "axis": {"values": [5000,6000,7000,8000,9000,10000], "format": "d"}}},
 "layer": [
  {"mark": {"type": "line", "strokeWidth": 1.1}, "encoding": {"y": {"field": "f1", "type": "quantitative", "title": null, "scale": {"domain": [-0.339, 0.042], "nice": false, "zero": false}, "axis": {"values": [-0.3,-0.2,-0.1,0], "format": ".1f"}}, "color": {"datum": "1", "type": "nominal"}}},
  {"mark": {"type": "line", "strokeWidth": 1.4}, "encoding": {"y": {"field": "f2", "type": "quantitative", "title": null, "scale": {"domain": [-0.339, 0.042], "nice": false, "zero": false}, "axis": {"values": [-0.3,-0.2,-0.1,0], "format": ".1f"}}, "color": {"datum": "2", "type": "nominal"}}}
 ]},
{"title": "phi", "width": 311, "height": 128,
 "encoding": {"x": {"field": "x", "type": "quantitative", "title": null, "scale": {"domain": [4750, 10250], "nice": false}, "axis": {"values": [5000,6000,7000,8000,9000,10000], "format": "d"}}},
 "layer": [
  {"mark": {"type": "line", "strokeWidth": 1.1}, "encoding": {"y": {"field": "g1", "type": "quantitative", "title": null, "scale": {"domain": [0.0132, 0.0508], "nice": false, "zero": false}, "axis": {"values": [0.02,0.03,0.04,0.05], "format": ".2f"}}, "color": {"datum": "1", "type": "nominal"}}},
  {"mark": {"type": "line", "strokeWidth": 1.4}, "encoding": {"y": {"field": "g2", "type": "quantitative", "title": null, "scale": {"domain": [0.0132, 0.0508], "nice": false, "zero": false}, "axis": {"values": [0.02,0.03,0.04,0.05], "format": ".2f"}}, "color": {"datum": "2", "type": "nominal"}}}
 ]},
{"title": "sigmasq", "width": 311, "height": 128,
 "encoding": {"x": {"field": "x", "type": "quantitative", "title": null, "scale": {"domain": [4750, 10250], "nice": false}, "axis": {"values": [5000,6000,7000,8000,9000,10000], "format": "d"}}},
 "layer": [
  {"mark": {"type": "line", "strokeWidth": 1.1}, "encoding": {"y": {"field": "h1", "type": "quantitative", "title": null, "scale": {"domain": [0.396, 1.105], "nice": false, "zero": false}, "axis": {"values": [0.4,0.6,0.8,1.0], "format": ".1f"}}, "color": {"datum": "1", "type": "nominal"}}},
  {"mark": {"type": "line", "strokeWidth": 1.4}, "encoding": {"y": {"field": "h2", "type": "quantitative", "title": null, "scale": {"domain": [0.396, 1.105], "nice": false, "zero": false}, "axis": {"values": [0.4,0.6,0.8,1.0], "format": ".1f"}}, "color": {"datum": "2", "type": "nominal"}}}
 ]}
],
"config": {
 "view": {"stroke": null},
 "font": "Liberation Sans",
 "locale": {"number": {"decimal": ".", "thousands": ",", "grouping": [3], "currency": ["$", ""], "minus": "-"}},
 "line": {"strokeWidth": 1},
 "axis": {"grid": false, "domainColor": "#333333", "domainWidth": 1.1, "tickColor": "#333333", "tickSize": 3.7, "tickWidth": 1, "labelColor": "#4D4D4D", "labelFontSize": 14.5, "labelFont": "Liberation Sans", "labelPadding": 2},
 "axisY": {"labelPadding": 3, "minExtent": 34, "maxExtent": 34},
 "title": {"fontSize": 16.5, "fontWeight": "bold", "color": "#000000", "font": "Liberation Sans", "offset": 4, "anchor": "middle"},
 "legend": {"titleFontSize": 16.5, "titleFontWeight": "normal", "titleColor": "#000000", "titleFont": "Liberation Sans", "labelFont": "Liberation Sans", "labelFontSize": 14.5, "labelColor": "#000000", "symbolType": "stroke", "symbolSize": 169, "symbolStrokeWidth": 1.5, "labelOffset": 7, "rowPadding": 4, "titlePadding": 8, "padding": 0}
}
}
